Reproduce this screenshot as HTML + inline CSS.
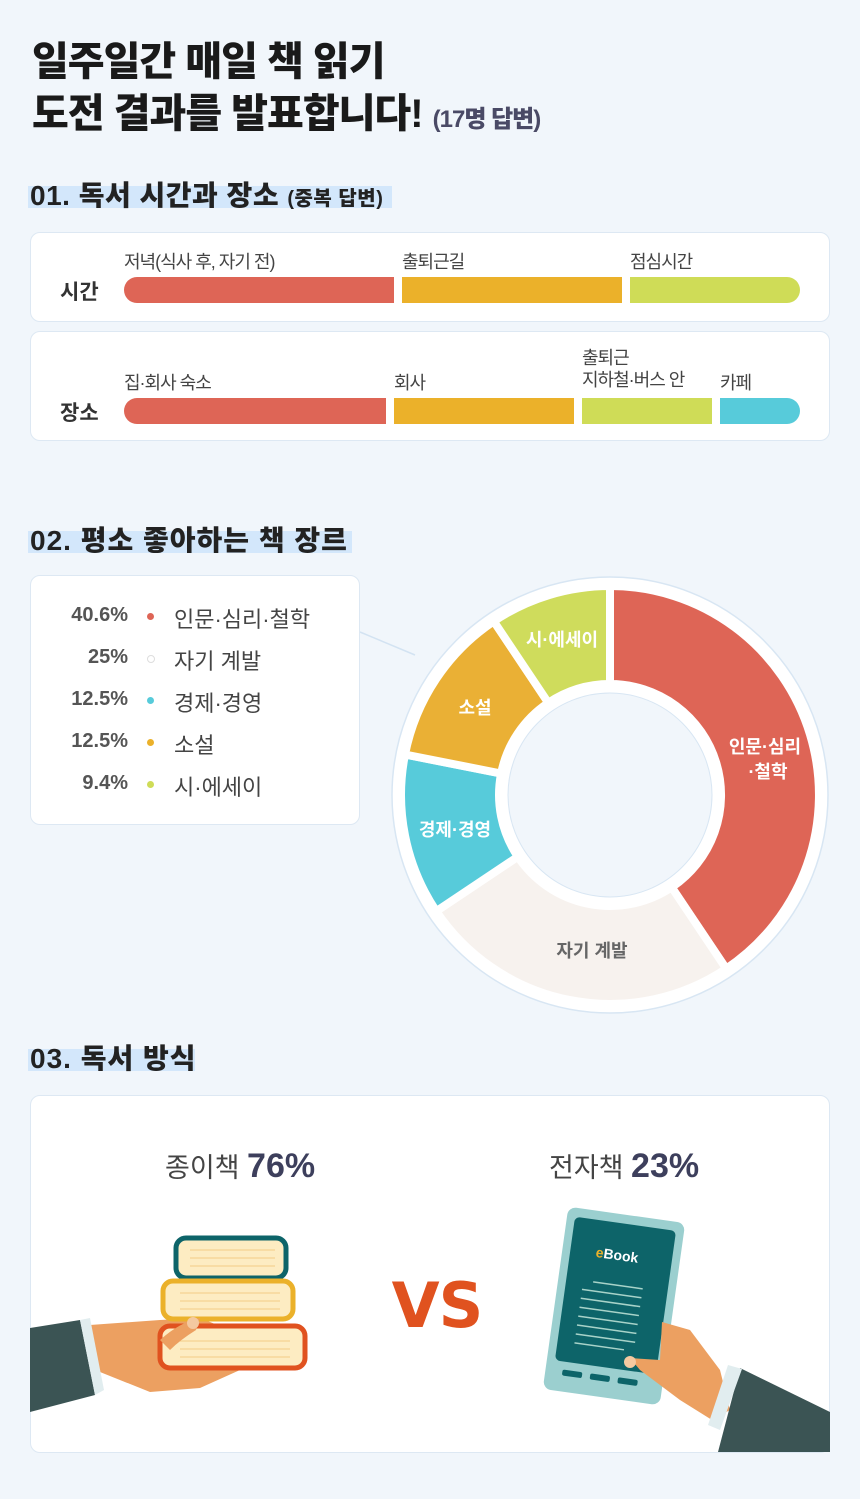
<!DOCTYPE html>
<html><head><meta charset="utf-8"><style>
body{margin:0;width:860px;height:1499px;background:#f1f6fb;font-family:"Liberation Sans","Noto Sans CJK KR",sans-serif;position:relative;overflow:hidden;color:#222}
.a{position:absolute;white-space:nowrap}
.card{position:absolute;background:#fff;border:1.5px solid #dde8f3;border-radius:10px;box-sizing:border-box}
.h{font-weight:900;font-size:28px;color:#222;letter-spacing:0.5px}
.hl{position:absolute;background:#d3e7fb}
.bar{position:absolute;height:26px}
.lab{font-size:18px;color:#444;letter-spacing:-1px}
.rowp{position:absolute;width:100px;text-align:right;font-size:20px;font-weight:700;color:#555}
.rowl{position:absolute;font-size:22px;color:#444}
.dot{position:absolute;width:7px;height:7px;border-radius:50%}
</style></head><body>
<div class="a" style="left:32px;top:36px;font-size:40px;font-weight:900;letter-spacing:-1px;line-height:52px;color:#1a1a1a">일주일간 매일 책 읽기<br>도전 결과를 발표합니다! <span style="font-size:24px;color:#4a4a66;letter-spacing:-1px">(17명 답변)</span></div>

<div class="hl" style="left:28px;top:186px;width:364px;height:22px"></div>
<div class="a h" style="left:30px;top:174px">01. 독서 시간과 장소 <span style="font-size:20px">(중복 답변)</span></div>

<div class="card" style="left:30px;top:232px;width:800px;height:90px"></div>
<div class="a lab" style="left:124px;top:248px">저녁(식사 후, 자기 전)</div>
<div class="a lab" style="left:402px;top:248px">출퇴근길</div>
<div class="a lab" style="left:630px;top:248px">점심시간</div>
<div class="a" style="left:60px;top:276px;font-size:21px;font-weight:700;color:#333">시간</div>
<div class="bar" style="left:124px;top:277px;width:270px;background:#de6556;border-radius:13px 0 0 13px"></div>
<div class="bar" style="left:402px;top:277px;width:220px;background:#ebb12a"></div>
<div class="bar" style="left:630px;top:277px;width:170px;background:#cfdc57;border-radius:0 13px 13px 0"></div>

<div class="card" style="left:30px;top:331px;width:800px;height:110px"></div>
<div class="a lab" style="left:124px;top:369px">집·회사 숙소</div>
<div class="a lab" style="left:394px;top:369px">회사</div>
<div class="a lab" style="left:582px;top:347px;line-height:22px">출퇴근<br>지하철·버스 안</div>
<div class="a lab" style="left:720px;top:369px">카페</div>
<div class="a" style="left:60px;top:397px;font-size:21px;font-weight:700;color:#333">장소</div>
<div class="bar" style="left:124px;top:398px;width:262px;background:#de6556;border-radius:13px 0 0 13px"></div>
<div class="bar" style="left:394px;top:398px;width:180px;background:#ebb12a"></div>
<div class="bar" style="left:582px;top:398px;width:130px;background:#cfdc57"></div>
<div class="bar" style="left:720px;top:398px;width:80px;background:#57cbda;border-radius:0 13px 13px 0"></div>

<div class="hl" style="left:28px;top:531px;width:324px;height:22px"></div>
<div class="a h" style="left:30px;top:519px;letter-spacing:1px">02. 평소 좋아하는 책 장르</div>

<div class="card" style="left:30px;top:575px;width:330px;height:250px"></div>
<div class="rowp" style="left:28px;top:604px">40.6%</div><div class="dot" style="left:147px;top:613px;background:#de6556"></div><div class="rowl" style="left:174px;top:602px">인문·심리·철학</div>
<div class="rowp" style="left:28px;top:646px">25%</div><div class="dot" style="left:147px;top:655px;background:#fff;border:1px solid #ddd;width:6px;height:6px"></div><div class="rowl" style="left:174px;top:644px">자기 계발</div>
<div class="rowp" style="left:28px;top:688px">12.5%</div><div class="dot" style="left:147px;top:697px;background:#57cbda"></div><div class="rowl" style="left:174px;top:686px">경제·경영</div>
<div class="rowp" style="left:28px;top:730px">12.5%</div><div class="dot" style="left:147px;top:739px;background:#ebb12a"></div><div class="rowl" style="left:174px;top:728px">소설</div>
<div class="rowp" style="left:28px;top:772px">9.4%</div><div class="dot" style="left:147px;top:781px;background:#cfdc57"></div><div class="rowl" style="left:174px;top:770px">시·에세이</div>

<svg class="a" style="left:0;top:0" width="860" height="1499">
<line x1="360" y1="632" x2="415" y2="655" stroke="#d3e3f2" stroke-width="1.5"/>
<circle cx="610" cy="795" r="218" fill="#fff" stroke="#d8e6f3" stroke-width="1.5"/>
<g stroke="#fff" stroke-width="8" stroke-linejoin="miter">
<path d="M610,586 A209,209 0 0 1 726.2,968.7 L671.7,887.3 A111,111 0 0 0 610,684 Z" fill="#de6556"/>
<path d="M726.2,968.7 A209,209 0 0 1 436.3,911.2 L517.8,856.7 A111,111 0 0 0 671.7,887.3 Z" fill="#f7f2ee"/>
<path d="M436.3,911.2 A209,209 0 0 1 405,754.5 L501.1,773.5 A111,111 0 0 0 517.8,856.7 Z" fill="#57cbda"/>
<path d="M405,754.5 A209,209 0 0 1 493.8,621.3 L548.3,702.8 A111,111 0 0 0 501.1,773.5 Z" fill="#eab035"/>
<path d="M493.8,621.3 A209,209 0 0 1 610,586 L610,684 A111,111 0 0 0 548.3,702.8 Z" fill="#cfdc5c"/>
</g>
<circle cx="610" cy="795" r="102" fill="#f1f6fb" stroke="#d8e6f3" stroke-width="1"/>
<g font-family="Liberation Sans,Noto Sans CJK KR,sans-serif" font-weight="700" font-size="18" text-anchor="middle">
<text x="765" y="753" fill="#fff">인문·심리</text><text x="768" y="778" fill="#fff">·철학</text>
<text x="592" y="957" fill="#666">자기 계발</text>
<text x="455" y="836" fill="#fff">경제·경영</text>
<text x="475" y="714" fill="#fff">소설</text>
<text x="562" y="646" fill="#fff">시·에세이</text>
</g>
</svg>

<div class="hl" style="left:28px;top:1049px;width:167px;height:22px"></div>
<div class="a h" style="left:30px;top:1037px;letter-spacing:1px">03. 독서 방식</div>

<div class="card" style="left:30px;top:1095px;width:800px;height:358px"></div>
<div class="a" style="left:165px;top:1146px;font-size:27px;color:#444">종이책 <b style="font-size:34px;color:#3d3f5c">76%</b></div>
<div class="a" style="left:549px;top:1146px;font-size:27px;color:#444">전자책 <b style="font-size:34px;color:#3d3f5c">23%</b></div>

<svg class="a" style="left:0;top:0" width="860" height="1499">
<polygon points="90,1325 160,1320 200,1318 230,1330 240,1370 200,1388 150,1392 100,1372" fill="#eca061"/>
<polygon points="30,1328 80,1320 95,1395 30,1412" fill="#3b5454"/>
<polygon points="80,1320 90,1318 104,1390 95,1395" fill="#e1edef"/>
<rect x="176" y="1238" width="110" height="40" rx="10" fill="#fdecc2" stroke="#0d6469" stroke-width="5"/>
<rect x="163" y="1281" width="130" height="38" rx="10" fill="#fdecc2" stroke="#ebb12a" stroke-width="5"/>
<rect x="160" y="1326" width="145" height="42" rx="10" fill="#fdecc2" stroke="#e0521f" stroke-width="5"/>
<g stroke="#f6d79a" stroke-width="1.5">
<line x1="190" y1="1250" x2="275" y2="1250"/><line x1="190" y1="1258" x2="275" y2="1258"/><line x1="190" y1="1266" x2="275" y2="1266"/>
<line x1="180" y1="1293" x2="280" y2="1293"/><line x1="180" y1="1301" x2="280" y2="1301"/><line x1="180" y1="1309" x2="280" y2="1309"/>
<line x1="180" y1="1341" x2="290" y2="1341"/><line x1="180" y1="1349" x2="290" y2="1349"/><line x1="180" y1="1357" x2="290" y2="1357"/>
</g>
<path d="M160,1340 Q180,1322 200,1318 L196,1330 Q180,1340 170,1350 Z" fill="#eca061"/>
<circle cx="193" cy="1323" r="6" fill="#f4c9a0"/>
<text x="437" y="1327" text-anchor="middle" font-family="DejaVu Sans,Liberation Sans,sans-serif" font-weight="900" font-size="62" fill="#e0521f" letter-spacing="-1">VS</text>
<g transform="rotate(8 614 1306)">
<rect x="555" y="1214" width="118" height="184" rx="8" fill="#9bcfcf"/>
<rect x="563" y="1223" width="102" height="145" rx="5" fill="#0d6469"/>
<text x="610" y="1260" font-family="Liberation Sans,sans-serif" font-weight="700" font-size="14" fill="#fff" text-anchor="middle"><tspan fill="#ebb12a">e</tspan>Book</text>
<g stroke="#a8d3c9" stroke-width="1.5">
<line x1="590" y1="1285" x2="640" y2="1285"/><line x1="580" y1="1294" x2="640" y2="1294"/><line x1="580" y1="1303" x2="640" y2="1303"/><line x1="580" y1="1312" x2="640" y2="1312"/><line x1="580" y1="1321" x2="640" y2="1321"/><line x1="580" y1="1330" x2="640" y2="1330"/><line x1="580" y1="1339" x2="640" y2="1339"/><line x1="580" y1="1348" x2="630" y2="1348"/>
</g>
<rect x="572" y="1376" width="20" height="6" rx="2" fill="#0d6469"/><rect x="600" y="1376" width="20" height="6" rx="2" fill="#0d6469"/><rect x="628" y="1376" width="20" height="6" rx="2" fill="#0d6469"/>
</g>
<polygon points="662,1322 690,1330 720,1370 730,1410 712,1420 680,1400 640,1370 630,1358 660,1360" fill="#eca061"/>
<circle cx="630" cy="1362" r="6" fill="#f4c9a0"/>
<polygon points="740,1368 830,1412 830,1452 718,1452" fill="#3b5454"/>
<polygon points="728,1365 742,1369 720,1430 708,1425" fill="#e1edef"/>
</svg>
</body></html>
